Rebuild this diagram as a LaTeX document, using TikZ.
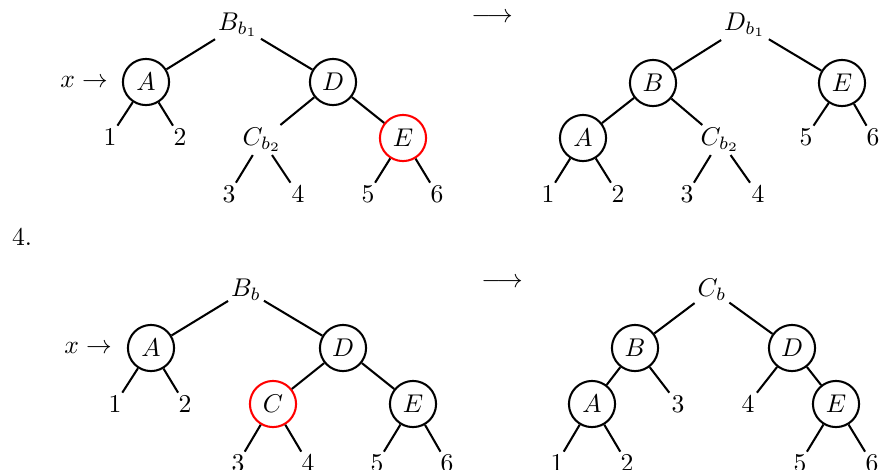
\documentclass[tikz,border=0pt]{standalone}
\usepackage{amsmath}

\tikzset{
	vtx/.style={circle, draw, thick, minimum size=18pt, inner sep=0pt},
	hot/.style={vtx, draw=red},
	lbl/.style={inner sep=1pt},
}

\begin{document}
\begin{tikzpicture}[x=0.39pt, y=-0.39pt, every edge/.style={draw, thick}]
\useasboundingbox (0,0) rectangle (885,469);

% case 3: before
\node[lbl] (aB) at (238,25) {$B_{b_1}$};
\node (ax) at (84,82) {$x\to$};
\node[vtx] (aA) at (146,82) {$A$};
\node[vtx] (aD) at (333,82) {$D$};
\node[lbl] (aC) at (262,140) {$C_{b_2}$};
\node[hot] (aE) at (403,138) {$E$};
\node[lbl] (a1) at (110,137) {$1$};
\node[lbl] (a2) at (180,137) {$2$};
\node[lbl] (a3) at (229,194) {$3$};
\node[lbl] (a4) at (298,194) {$4$};
\node[lbl] (a5) at (368,194) {$5$};
\node[lbl] (a6) at (437,194) {$6$};
\foreach \u/\v in {aB/aA, aB/aD, aA/a1, aA/a2, aD/aC, aD/aE, aC/a3, aC/a4, aE/a5, aE/a6}
	\draw (\u) edge (\v);

\node (arr1) at (492,18) {$\longrightarrow$};

% case 3: after
\node[lbl] (bD) at (745,25) {$D_{b_1}$};
\node[vtx] (bB) at (653,83) {$B$};
\node[vtx] (bE) at (842,83) {$E$};
\node[vtx] (bA) at (583,138) {$A$};
\node[lbl] (bC) at (720,140) {$C_{b_2}$};
\node[lbl] (b5) at (806,137) {$5$};
\node[lbl] (b6) at (873,137) {$6$};
\node[lbl] (b1) at (548,194) {$1$};
\node[lbl] (b2) at (618,194) {$2$};
\node[lbl] (b3) at (687,194) {$3$};
\node[lbl] (b4) at (758,194) {$4$};
\foreach \u/\v in {bD/bB, bD/bE, bB/bA, bB/bC, bE/b5, bE/b6, bA/b1, bA/b2, bC/b3, bC/b4}
	\draw (\u) edge (\v);

\node (four) at (22,237) {4.};

% case 4: before
\node[lbl] (cB) at (246,290) {$B_b$};
\node (cx) at (88,348) {$x\to$};
\node[vtx] (cA) at (151,348) {$A$};
\node[vtx] (cD) at (343,348) {$D$};
\node[hot] (cC) at (273,404) {$C$};
\node[vtx] (cE) at (413,404) {$E$};
\node[lbl] (c1) at (115,404) {$1$};
\node[lbl] (c2) at (185,404) {$2$};
\node[lbl] (c3) at (238,463) {$3$};
\node[lbl] (c4) at (308,463) {$4$};
\node[lbl] (c5) at (377,463) {$5$};
\node[lbl] (c6) at (447,463) {$6$};
\foreach \u/\v in {cB/cA, cB/cD, cA/c1, cA/c2, cD/cC, cD/cE, cC/c3, cC/c4, cE/c5, cE/c6}
	\draw (\u) edge (\v);

\node (arr2) at (502,283) {$\longrightarrow$};

% case 4: after
\node[lbl] (dC) at (712,290) {$C_b$};
\node[vtx] (dB) at (635,348) {$B$};
\node[vtx] (dD) at (792,348) {$D$};
\node[vtx] (dA) at (592,404) {$A$};
\node[vtx] (dE) at (836,404) {$E$};
\node[lbl] (d3) at (678,404) {$3$};
\node[lbl] (d4) at (748,404) {$4$};
\node[lbl] (d1) at (557,463) {$1$};
\node[lbl] (d2) at (627,463) {$2$};
\node[lbl] (d5) at (800,463) {$5$};
\node[lbl] (d6) at (872,463) {$6$};
\foreach \u/\v in {dC/dB, dC/dD, dB/dA, dB/d3, dD/d4, dD/dE, dA/d1, dA/d2, dE/d5, dE/d6}
	\draw (\u) edge (\v);
\end{tikzpicture}
\end{document}
